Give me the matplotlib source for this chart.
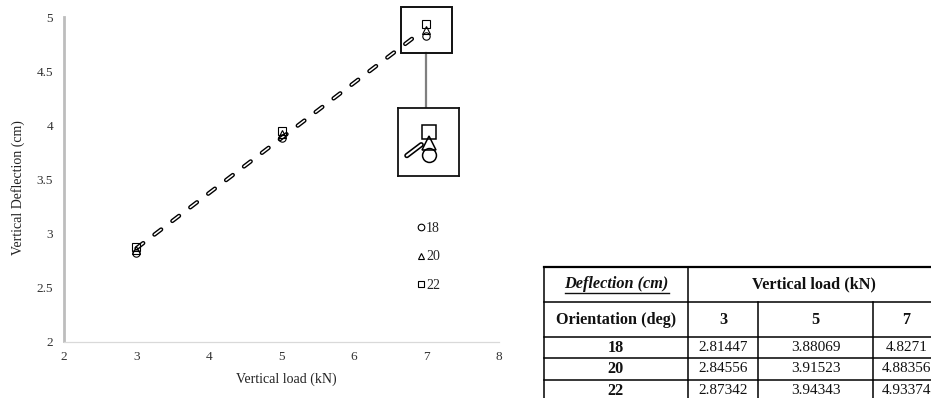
import numpy as np
import matplotlib
matplotlib.use("Agg")
import matplotlib.pyplot as plt
from matplotlib.patches import Rectangle
from matplotlib.lines import Line2D

plt.rcParams['font.family'] = ['Liberation Serif', 'DejaVu Serif']
plt.rcParams['lines.scale_dashes'] = False

# ---- data ----
loads = [3, 5, 7]                       # vertical load (kN)
orientations = [18, 20, 22]             # orientation (deg)
defl_18 = [2.81447, 3.88069, 4.8271]    # vertical deflection (cm)
defl_20 = [2.84556, 3.91523, 4.88356]
defl_22 = [2.87342, 3.94343, 4.93374]
series = [defl_18, defl_20, defl_22]
markers = ['o', '^', 's']
x_ticks = [2, 3, 4, 5, 6, 7, 8]
y_ticks = [2, 2.5, 3, 3.5, 4, 4.5, 5]
y_tick_labels = ['2', '2.5', '3', '3.5', '4', '4.5', '5']
trend_span = [3.0, 6.95]
table_values = [["2.81447", "3.88069", "4.8271"],
                ["2.84556", "3.91523", "4.88356"],
                ["2.87342", "3.94343", "4.93374"]]

W, H = 931, 398
fig = plt.figure(figsize=(W / 100, H / 100), dpi=100)


def px_axes(l, t, r, b, **kw):
    return fig.add_axes([l / W, 1 - b / H, (r - l) / W, (b - t) / H], **kw)


# linear trend through the 20 deg series
coef = np.polyfit(loads, defl_20, 1)
tx = np.linspace(trend_span[0], trend_span[1], 200)
ty = np.polyval(coef, tx)


def hollow_dashes(a, x, y, outer, inner, on, off, z=2):
    a.plot(x, y, color='black', lw=outer, linestyle=(0, (on, off)),
           dash_capstyle='round', zorder=z)
    a.plot(x, y, color='white', lw=inner, linestyle=(0, (on, off)),
           dash_capstyle='round', zorder=z + 0.1)


# ---- main chart ----
ax = px_axes(64, 17, 499, 341.5)
ax.set_xlim(2, 8)
ax.set_ylim(2, 5)
ax.set_xticks(x_ticks)
ax.set_yticks(y_ticks)
ax.set_yticklabels(y_tick_labels)
ax.tick_params(length=0, labelsize=9.5, colors='#333333')
ax.tick_params(axis='y', pad=8)
ax.tick_params(axis='x', pad=7)
for s in ['top', 'right']:
    ax.spines[s].set_visible(False)
ax.spines['left'].set_color('#bdbdbd')
ax.spines['left'].set_linewidth(2)
ax.spines['bottom'].set_color('#d9d9d9')
ax.spines['bottom'].set_linewidth(0.9)

hollow_dashes(ax, tx, ty, outer=3.1, inner=1.1, on=6.1, off=10.1)
for vals, m, o in zip(series, markers, orientations):
    ax.plot(loads, vals, linestyle='none', marker=m, markersize=5.3,
            markerfacecolor='none', markeredgecolor='black',
            markeredgewidth=0.8, zorder=3, label=str(o))

ax.set_xlabel('Vertical load (kN)', fontsize=10, color='#222222')
ax.set_ylabel('Vertical Deflection (cm)', fontsize=10, color='#222222')
ax.xaxis.set_label_coords(0.51, -0.097)
ax.yaxis.set_label_coords(-0.09, 0.473)

leg = ax.legend(loc='center left', bbox_to_anchor=(417 / W, 1 - 257 / H),
                bbox_transform=fig.transFigure, frameon=False, fontsize=10,
                handlelength=0.6, handletextpad=0.05, labelspacing=1.1,
                borderpad=0, borderaxespad=0, markerscale=0.9)
for t in leg.get_texts():
    t.set_color('#222222')

# zoom frame around the 7 kN points and the connector to the enlarged view
cx, cy = loads[-1], np.mean([s[-1] for s in series])
hw, hh = 0.345, 0.21
ax.add_patch(Rectangle((cx - hw, cy - hh), 2 * hw, 2 * hh, fill=False,
                       edgecolor='#111111', lw=1.4, clip_on=False, zorder=4))
inset_top_y = 5 - (108 - 17) / 108
ax.plot([cx, cx], [cy - hh, inset_top_y], color='#7f7f7f', lw=1.6,
        clip_on=False, zorder=1)

# ---- enlarged view ----
ins = px_axes(398, 108, 459, 176)
ins.set_xlim(cx - 0.21, cx + 0.21)
ins.set_ylim(4.730, 5.045)
ins.set_xticks([])
ins.set_yticks([])
for s in ins.spines.values():
    s.set_color('#111111')
    s.set_linewidth(1.3)
# dash pattern starts at the line's end so a whole dash shows in the view
hollow_dashes(ins, tx[::-1], ty[::-1], outer=3.8, inner=1.5, on=13, off=20)
for vals, m in zip(series, markers):
    ins.plot(loads, vals, linestyle='none', marker=m, markersize=10,
             markerfacecolor='none', markeredgecolor='black',
             markeredgewidth=1.1, zorder=3)

# ---- data table ----
tab = fig.add_axes([0, 0, 1, 1])
tab.set_xlim(0, W)
tab.set_ylim(H, 0)
tab.axis('off')
col_edges = [544, 688, 758, 873, 940]
row_edges = [267, 302, 337, 358, 380, 402]
lw = 1.1
for y in row_edges[:-1]:
    tab.add_line(Line2D([col_edges[0], col_edges[-1]], [y, y], color='black',
                        lw=1.6 if y == row_edges[0] else lw))
for x in col_edges:
    top = row_edges[0] if x in (col_edges[0], col_edges[1], col_edges[-1]) else row_edges[1]
    tab.add_line(Line2D([x, x], [top, row_edges[-1]], color='black', lw=lw))

ccx = [(col_edges[i] + col_edges[i + 1]) / 2 for i in range(4)]
ccy = [(row_edges[i] + row_edges[i + 1]) / 2 for i in range(5)]
fs = 11.7
tab.text(ccx[0], ccy[0], 'Deflection (cm)', ha='center', va='center',
         fontsize=fs, fontweight='bold', fontstyle='italic', color='#111111')
tab.add_line(Line2D([565, 669], [293, 293], color='#111111', lw=1.0))
tab.text((col_edges[1] + col_edges[-1]) / 2, ccy[0], 'Vertical load (kN)',
         ha='center', va='center', fontsize=fs, fontweight='bold', color='#111111')
tab.text(ccx[0], ccy[1], 'Orientation (deg)', ha='center', va='center',
         fontsize=fs, fontweight='bold', color='#111111')
for j, ld in enumerate(loads):
    tab.text(ccx[j + 1], ccy[1], str(ld), ha='center', va='center',
             fontsize=fs, fontweight='bold', color='#111111')
for i, o in enumerate(orientations):
    tab.text(ccx[0], ccy[i + 2], str(o), ha='center', va='center',
             fontsize=fs, fontweight='bold', color='#111111')
    for j in range(3):
        tab.text(ccx[j + 1], ccy[i + 2], table_values[i][j], ha='center',
                 va='center', fontsize=11, color='#111111')

fig.savefig('out.png', dpi=100)
